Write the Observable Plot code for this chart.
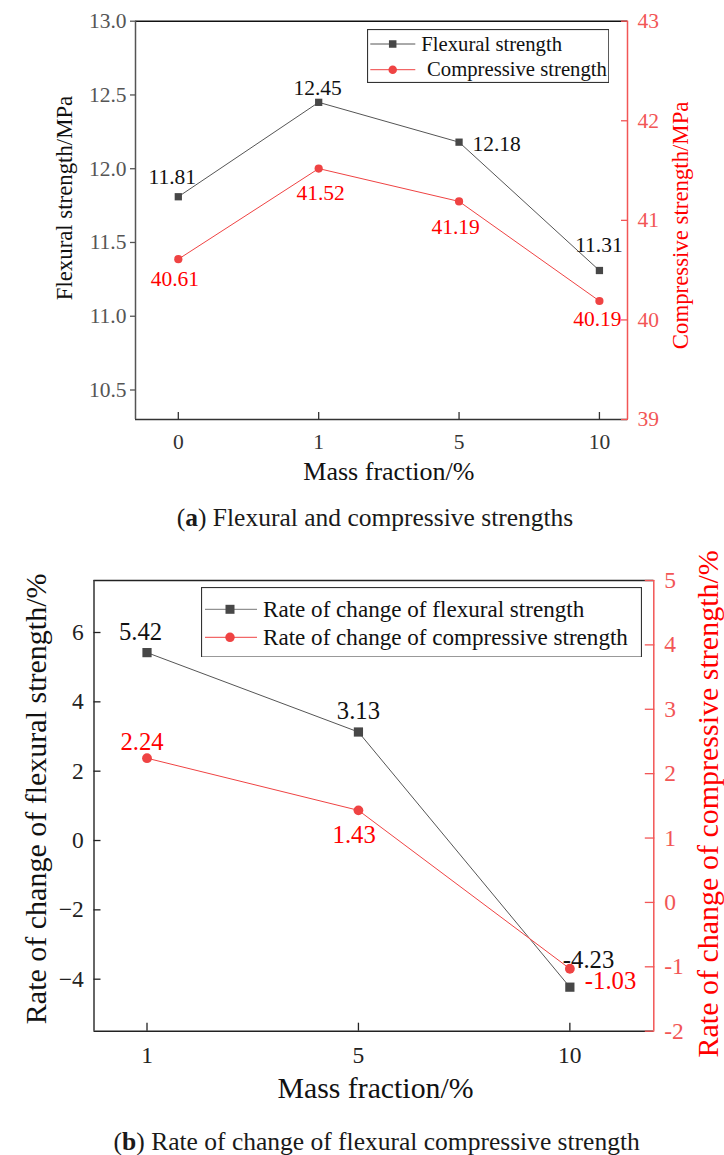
<!DOCTYPE html>
<html>
<head>
<meta charset="utf-8">
<script src="https://cdn.jsdelivr.net/npm/d3@7"></script>
<script src="https://cdn.jsdelivr.net/npm/@observablehq/plot@0.6"></script>
<style>
  body { margin: 0; background: #fff; }
  #fig { position: relative; width: 724px; height: 1155px; overflow: hidden; font-family: "Liberation Serif", "Times New Roman", serif; }
  #fig svg, #fig svg text { font-family: "Liberation Serif", "Times New Roman", serif !important; }
  .chart { position: absolute; left: 0; }
  .caption { position: absolute; transform: translateX(-50%); white-space: nowrap; font-size: 25.5px; line-height: 30px; color: #1a1a1a; }
  .legend { position: absolute; }
</style>
</head>
<body>
<div id="fig"></div>
<script>
// ---- Panel (a): flexural and compressive strength by mass fraction ----
const massFractionA = ["0", "1", "5", "10"];
const flexuralStrength = [11.81, 12.45, 12.18, 11.31];
const compressiveStrength = [40.61, 41.52, 41.19, 40.19];
const flexTicksA = [10.5, 11.0, 11.5, 12.0, 12.5, 13.0];
const compTicksA = [39, 40, 41, 42, 43];

// ---- Panel (b): rate of change relative to the reference mix ----
const massFractionB = ["1", "5", "10"];
const flexuralRate = [5.42, 3.13, -4.23];
const compressiveRate = [2.24, 1.43, -1.03];
const flexTicksB = [-4, -2, 0, 2, 4, 6];
const compTicksB = [-2, -1, 0, 1, 2, 3, 4, 5];

const FONT = '"Liberation Serif", "Times New Roman", serif';
const DARK = "#474747";
const RED = "#ef4343";
const RED_AXIS = "#f25656";
const LABEL_RED = "#ff0000";

const fig = document.getElementById("fig");

// Right-hand axis values are drawn on the left scale through a linear mapping.
function dualRows(cats, left, right, toLeft) {
  return cats.map((m, i) => ({ i, m, left: left[i], right: right[i], rightOnLeft: toLeft(right[i]) }));
}

function valueLabel(rows, i, channel, value, dx, dy, fill, fontSize) {
  return Plot.text(rows.filter(d => d.i === i), {
    x: "i", y: channel, text: d => d[value].toFixed(2),
    dx, dy, fill, fontSize, fontFamily: FONT
  });
}

function title(text, opts) {
  return Plot.text([text], { text: d => d, textAnchor: "middle", lineAnchor: "middle", fontFamily: FONT, ...opts });
}

// ================= Chart (a) =================
{
  const xDom = [-0.305, 3.2];
  const yDom = [10.3, 13];
  const toLeft = d3.scaleLinear().domain([39, 43]).range(yDom);
  const rows = dualRows(massFractionA, flexuralStrength, compressiveStrength, toLeft);
  const fs = 21.5;

  const chart = Plot.plot({
    width: 724, height: 500,
    marginTop: 20.7, marginBottom: 81, marginLeft: 135, marginRight: 97,
    style: { fontFamily: FONT, fontSize: fs + "px", background: "transparent", overflow: "visible" },
    x: { type: "linear", domain: xDom, axis: null },
    y: { domain: yDom, axis: null },
    marks: [
      // frame
      Plot.ruleY([yDom[1]], { stroke: "#111", strokeWidth: 1.5 }),
      Plot.ruleY([yDom[0]], { stroke: "#333", strokeWidth: 1.5 }),
      Plot.ruleX([xDom[0]], { stroke: "#555", strokeWidth: 1.5 }),
      Plot.ruleX([xDom[1]], { stroke: RED_AXIS, strokeWidth: 1.5 }),
      // axes
      Plot.axisX(d3.range(massFractionA.length), {
        anchor: "bottom", label: null, tickSize: 7, insetBottom: 7, tickPadding: 22.7, lineAnchor: "middle",
        tickFormat: i => massFractionA[i], color: "#333", fontSize: fs, strokeWidth: 1.3
      }),
      Plot.axisY(flexTicksA, {
        anchor: "left", label: null, tickSize: 5, tickPadding: 4, tickFormat: d3.format(".1f"),
        color: "#555", fontSize: fs, strokeWidth: 1.3
      }),
      Plot.axisY(compTicksA.map(toLeft), {
        anchor: "right", label: null, tickSize: 7, insetRight: 7, tickPadding: 10,
        tickFormat: d => String(Math.round(toLeft.invert(d))),
        color: RED_AXIS, fontSize: fs, strokeWidth: 1.3
      }),
      // series
      Plot.line(rows, { x: "i", y: "left", stroke: "#555", strokeWidth: 1 }),
      Plot.line(rows, { x: "i", y: "rightOnLeft", stroke: RED, strokeWidth: 1 }),
      Plot.dot(rows, { x: "i", y: "left", symbol: "square", r: 4.1, fill: DARK, stroke: "none" }),
      Plot.dot(rows, { x: "i", y: "rightOnLeft", r: 4.1, fill: RED, stroke: "none" }),
      // value labels
      valueLabel(rows, 0, "left", "left", -6, -19.6, "#111", fs),
      valueLabel(rows, 1, "left", "left", -1, -14.5, "#111", fs),
      valueLabel(rows, 2, "left", "left", 37.6, 2.3, "#111", fs),
      valueLabel(rows, 3, "left", "left", -0.5, -25, "#111", fs),
      valueLabel(rows, 0, "rightOnLeft", "right", -3.4, 19.6, LABEL_RED, fs),
      valueLabel(rows, 1, "rightOnLeft", "right", 2, 24.6, LABEL_RED, fs),
      valueLabel(rows, 2, "rightOnLeft", "right", -3.4, 25.8, LABEL_RED, fs),
      valueLabel(rows, 3, "rightOnLeft", "right", -2, 18.3, LABEL_RED, fs),
      // axis titles
      title("Flexural strength/MPa", { frameAnchor: "left", rotate: -90, dx: -70.3, dy: -22.3, fontSize: 22.8, fill: "#111" }),
      title("Compressive strength/MPa", { frameAnchor: "right", rotate: -90, dx: 53, dy: 5, fontSize: 22.8, fill: LABEL_RED }),
      title("Mass fraction/%", { frameAnchor: "bottom", dx: 7.4, dy: 52, fontSize: 26, fill: "#111" })
    ]
  });
  chart.classList.add("chart");
  chart.style.top = "0px";
  fig.appendChild(chart);
}

// ================= Chart (b) =================
{
  const xDom = [-0.2507, 2.397];
  const yDom = [-5.5, 7.5];
  const toLeft = d3.scaleLinear().domain([-2, 5]).range(yDom);
  const rows = dualRows(massFractionB, flexuralRate, compressiveRate, toLeft);
  const fs = 23.5;
  const lfs = 24.7;
  const minus = d => (d < 0 ? "\u2212" + Math.abs(d) : String(d));

  const chart = Plot.plot({
    width: 724, height: 600,
    marginTop: 40, marginBottom: 109.3, marginLeft: 93.5, marginRight: 70.7,
    style: { fontFamily: FONT, fontSize: fs + "px", background: "transparent", overflow: "visible" },
    x: { type: "linear", domain: xDom, axis: null },
    y: { domain: yDom, axis: null },
    marks: [
      Plot.ruleY([yDom[1]], { stroke: "#222", strokeWidth: 1.5 }),
      Plot.ruleY([yDom[0]], { stroke: "#222", strokeWidth: 1.5 }),
      Plot.ruleX([xDom[0]], { stroke: "#333", strokeWidth: 1.5 }),
      Plot.ruleX([xDom[1]], { stroke: RED_AXIS, strokeWidth: 1.5 }),
      Plot.axisX(d3.range(massFractionB.length), {
        anchor: "bottom", label: null, tickSize: 8, insetBottom: 8, tickPadding: 24.3, lineAnchor: "middle",
        tickFormat: i => massFractionB[i], color: "#222", fontSize: fs, strokeWidth: 1.3
      }),
      Plot.axisY(flexTicksB, {
        anchor: "left", label: null, tickSize: 7, insetLeft: 7, tickPadding: 10.2, tickFormat: minus,
        color: "#222", fontSize: fs, strokeWidth: 1.3
      }),
      Plot.axisY(compTicksB.map(toLeft), {
        anchor: "right", label: null, tickSize: 9.5, insetRight: 9.5, tickPadding: 10.4,
        tickFormat: d => String(Math.round(toLeft.invert(d))),
        color: RED_AXIS, fontSize: fs, strokeWidth: 1.3
      }),
      Plot.line(rows, { x: "i", y: "left", stroke: "#555", strokeWidth: 1 }),
      Plot.line(rows, { x: "i", y: "rightOnLeft", stroke: RED, strokeWidth: 1 }),
      Plot.dot(rows, { x: "i", y: "left", symbol: "square", r: 5.2, fill: DARK, stroke: "none" }),
      Plot.dot(rows, { x: "i", y: "rightOnLeft", r: 4.9, fill: RED, stroke: "none" }),
      valueLabel(rows, 0, "left", "left", -6.5, -20.6, "#111", lfs),
      valueLabel(rows, 1, "left", "left", 0, -21, "#111", lfs),
      valueLabel(rows, 2, "left", "left", 18.7, -26.6, "#111", lfs),
      valueLabel(rows, 0, "rightOnLeft", "right", -5, -16.3, LABEL_RED, lfs),
      valueLabel(rows, 1, "rightOnLeft", "right", -4.3, 24.3, LABEL_RED, lfs),
      valueLabel(rows, 2, "rightOnLeft", "right", 40.7, 12.7, LABEL_RED, lfs),
      title("Rate of change of flexural strength/%", { frameAnchor: "left", rotate: -90, dx: -57.5, dy: -7, fontSize: 30, fill: "#111" }),
      title("Rate of change of compressive strength/%", { frameAnchor: "right", rotate: -90, dx: 54.7, dy: -2, fontSize: 30, fill: LABEL_RED }),
      title("Mass fraction/%", { frameAnchor: "bottom", dx: 1.6, dy: 57.3, fontSize: 29.8, fill: "#111" })
    ]
  });
  chart.classList.add("chart");
  chart.style.top = "540px";
  fig.appendChild(chart);
}

// ---- legends ----
function addLegend(box, fontSize, entries) {
  const ns = "http://www.w3.org/2000/svg";
  const svg = document.createElementNS(ns, "svg");
  svg.setAttribute("class", "legend");
  svg.setAttribute("width", box.w);
  svg.setAttribute("height", box.h);
  svg.style.left = box.x + "px";
  svg.style.top = box.y + "px";
  const bg = document.createElementNS(ns, "rect");
  bg.setAttribute("x", 0.5); bg.setAttribute("y", 0.5);
  bg.setAttribute("width", box.w - 1); bg.setAttribute("height", box.h - 1);
  bg.setAttribute("fill", "#fff"); bg.setAttribute("stroke", "#333"); bg.setAttribute("stroke-width", 1.2);
  svg.appendChild(bg);
  for (const e of entries) {
    const ln = document.createElementNS(ns, "line");
    ln.setAttribute("x1", box.lineX0); ln.setAttribute("x2", box.lineX1);
    ln.setAttribute("y1", e.y); ln.setAttribute("y2", e.y);
    ln.setAttribute("stroke", e.line); ln.setAttribute("stroke-width", 1);
    svg.appendChild(ln);
    let m;
    if (e.shape === "square") {
      m = document.createElementNS(ns, "rect");
      m.setAttribute("x", box.markX - e.size / 2); m.setAttribute("y", e.y - e.size / 2);
      m.setAttribute("width", e.size); m.setAttribute("height", e.size);
    } else {
      m = document.createElementNS(ns, "circle");
      m.setAttribute("cx", box.markX); m.setAttribute("cy", e.y); m.setAttribute("r", e.size / 2);
    }
    m.setAttribute("fill", e.fill);
    svg.appendChild(m);
    const t = document.createElementNS(ns, "text");
    t.setAttribute("x", e.tx); t.setAttribute("y", e.y);
    t.setAttribute("dy", "0.32em");
    t.setAttribute("font-size", fontSize);
    t.setAttribute("fill", "#111");
    t.textContent = e.label;
    svg.appendChild(t);
  }
  fig.appendChild(svg);
}

addLegend({ x: 367, y: 29.3, w: 242.3, h: 54, lineX0: 3.3, lineX1: 48.3, markX: 25.7 }, 20.7, [
  { y: 15, label: "Flexural strength", tx: 54.3, line: "#555", fill: DARK, shape: "square", size: 7.5 },
  { y: 40.7, label: "Compressive strength", tx: 60, line: RED, fill: RED, shape: "circle", size: 8.5 }
]);
addLegend({ x: 201, y: 586.7, w: 441, h: 70.6, lineX0: 4, lineX1: 56, markX: 29 }, 23.1, [
  { y: 22.3, label: "Rate of change of flexural strength", tx: 62, line: "#777", fill: DARK, shape: "square", size: 9 },
  { y: 50.3, label: "Rate of change of compressive strength", tx: 62, line: RED, fill: RED, shape: "circle", size: 9.5 }
]);

// ---- captions ----
function addCaption(letter, text, cx, cy) {
  const div = document.createElement("div");
  div.className = "caption";
  div.style.left = cx + "px";
  div.style.top = (cy - 15) + "px";
  div.innerHTML = "(<b>" + letter + "</b>) ";
  div.appendChild(document.createTextNode(text));
  fig.appendChild(div);
}
addCaption("a", "Flexural and compressive strengths", 375, 518);
addCaption("b", "Rate of change of flexural compressive strength", 376.7, 1141.7);
</script>
</body>
</html>
